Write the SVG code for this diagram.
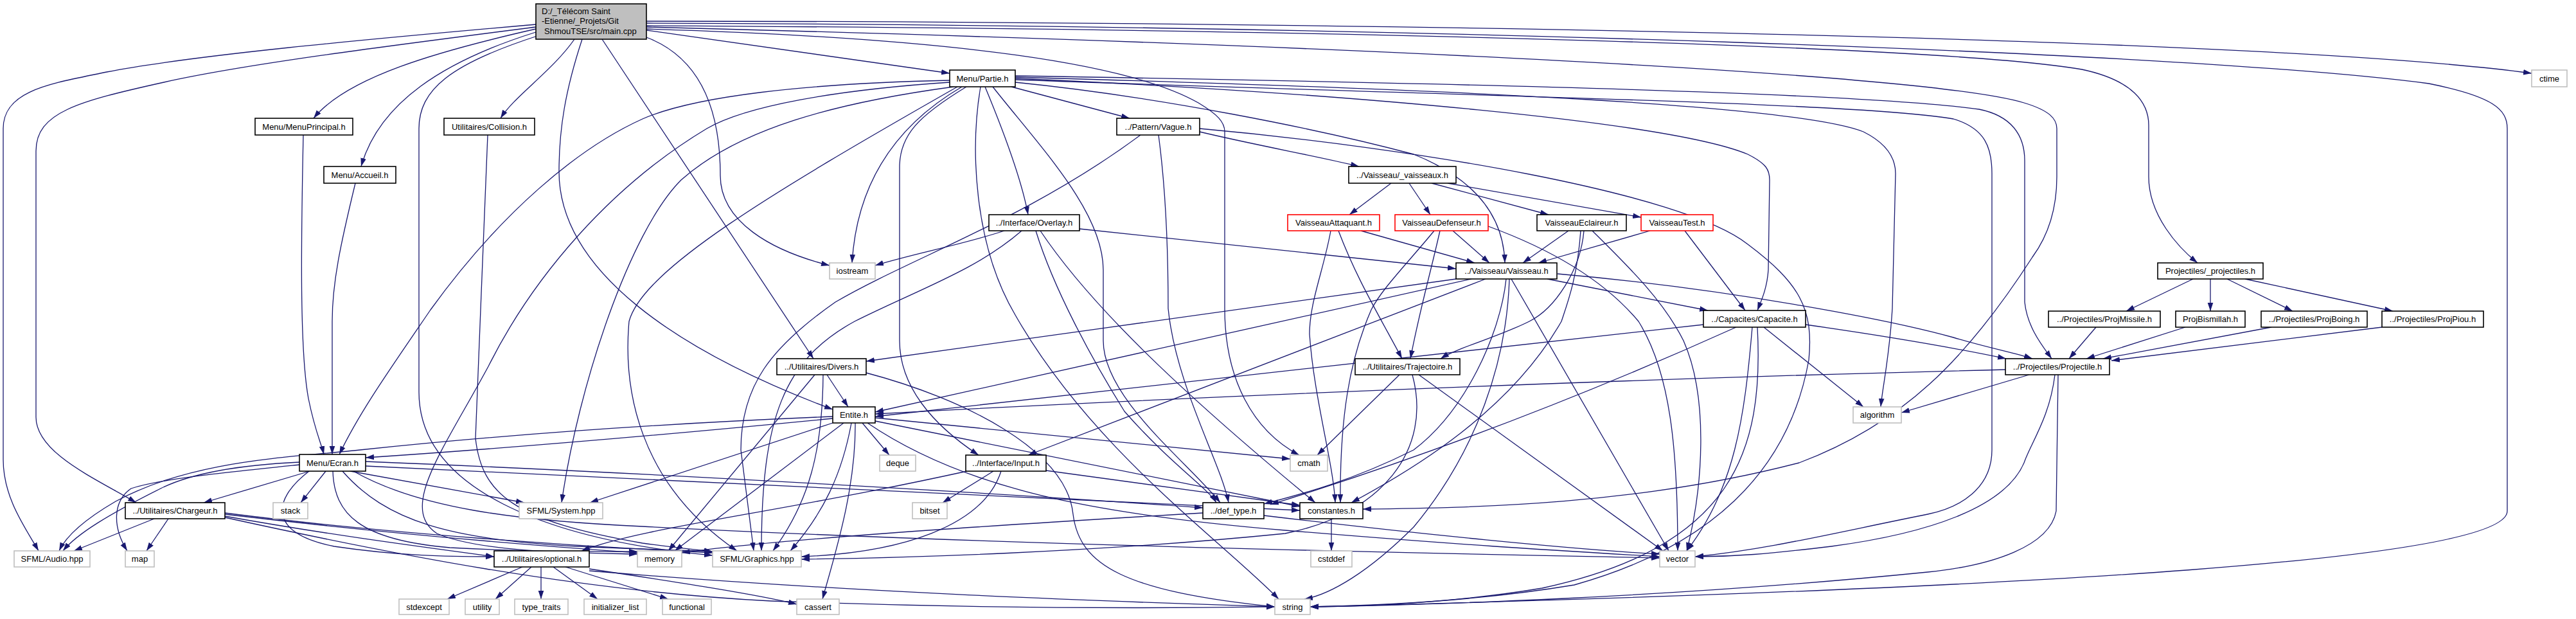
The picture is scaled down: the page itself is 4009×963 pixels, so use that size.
<svg xmlns="http://www.w3.org/2000/svg" width="4009" height="963" viewBox="0 0 4009 963">
<defs>
<style>
.e{fill:none;stroke:#191970;stroke-width:1.3;marker-end:url(#a)}
.b{fill:#fff;stroke:#000;stroke-width:1.6}
.g{fill:#fff;stroke:#bfbfbf;stroke-width:1.6}
.r{fill:#fff;stroke:#ff0000;stroke-width:1.6}
text{font-family:"Liberation Sans",Arial,sans-serif;font-size:13px;fill:#000;text-anchor:middle}
.l{text-anchor:start}
</style>
<marker id="a" markerWidth="13" markerHeight="10" refX="13" refY="5" orient="auto" markerUnits="userSpaceOnUse"><path d="M0,0.7 L13,5 L0,9.3 z" fill="#191970"/></marker>
</defs>
<rect width="4009" height="963" fill="#fff"/>
<g id="edges">
<path class="e" d="M834,38 C560,62 300,86 166,112 C80,130 5,140 5,200 L5,715 C5,775 40,822 60,857"/>
<path class="e" d="M834,42 C600,72 380,100 255,128 C120,158 56,175 56,235 L56,649 C56,705 150,745 212,782"/>
<path class="e" d="M834,45 C680,80 540,120 488,184"/>
<path class="e" d="M834,50 C690,95 590,160 562,259"/>
<path class="e" d="M836,56 C700,100 652,140 652,200 L652,610 C652,760 850,840 1109,864"/>
<path class="e" d="M894,61 C860,110 800,150 779,184"/>
<path class="e" d="M906,61 C880,140 870,200 870,267 C870,420 1050,545 1296,637"/>
<path class="e" d="M937,61 L1266,558"/>
<path class="e" d="M1006,58 C1090,90 1121,170 1121,273 C1121,345 1200,390 1291,413"/>
<path class="e" d="M1006,47 L1478,114"/>
<path class="e" d="M1006,33 C2000,33 3500,55 3940,114"/>
<path class="e" d="M1006,36 C2200,40 3400,80 3780,130 C3880,150 3902,170 3902,200 L3902,795 C3902,870 3200,915 2039,944"/>
<path class="e" d="M1006,40 C2200,46 3050,75 3240,108 C3320,125 3344,160 3344,195 L3344,275 C3344,335 3390,385 3420,409"/>
<path class="e" d="M1006,42 C2100,70 3000,115 3150,160 C3190,172 3201,185 3201,200 L3201,275 C3201,330 3185,370 3163,400 C3060,560 2960,660 2800,720 C2550,785 2300,790 2121,792"/>
<path class="e" d="M1006,45 C1500,60 1760,100 1865,160 C1895,178 1906,190 1906,205 L1906,480 C1906,590 1950,670 2022,708"/>
<path class="e" d="M1478,125 C1250,130 1080,150 1000,185 C900,230 780,330 670,482 C610,570 560,640 528,707"/>
<path class="e" d="M1478,128 C1300,140 1160,165 1100,200 C950,290 830,430 760,570 C690,700 620,790 680,830 C750,860 900,860 992,862"/>
<path class="e" d="M1484,135 C1300,160 1150,200 1060,280 C980,360 900,600 874,782"/>
<path class="e" d="M1490,135 C1200,300 1000,420 979,500 C970,600 990,750 1147,857"/>
<path class="e" d="M1497,135 C1420,180 1335,260 1326,409"/>
<path class="e" d="M1504,135 C1430,180 1400,210 1400,260 L1400,530 C1400,600 1450,660 1523,708"/>
<path class="e" d="M1526,135 C1510,230 1515,380 1580,490 C1700,700 1900,840 1990,932"/>
<path class="e" d="M1533,135 C1560,200 1590,280 1600,334"/>
<path class="e" d="M1545,135 C1620,230 1717,330 1717,420 L1717,530 C1717,620 1850,720 1899,782"/>
<path class="e" d="M1574,135 L1758,184"/>
<path class="e" d="M1580,128 C1800,150 2050,200 2200,240 C2300,280 2340,340 2342,409"/>
<path class="e" d="M1580,122 C2100,145 2600,190 2720,240 C2750,255 2754,265 2754,280 L2752,420 C2750,450 2740,470 2735,483"/>
<path class="e" d="M1580,120 C2300,140 2800,165 2900,205 C2940,225 2950,250 2950,270 L2945,480 C2940,560 2930,600 2927,633"/>
<path class="e" d="M1580,118 C2300,130 2900,145 3080,170 C3130,180 3151,210 3151,250 L3151,470 C3155,510 3180,540 3193,558"/>
<path class="e" d="M1580,124 C2300,150 2900,160 3040,185 C3090,200 3100,230 3100,270 L3100,700 C3100,760 3050,790 3000,800 C2850,830 2750,855 2638,866"/>
<path class="e" d="M1867,205 C1950,225 2060,245 2115,259"/>
<path class="e" d="M1775,210 C1600,340 1420,400 1300,470 C1200,540 1153,600 1153,700 L1173,857"/>
<path class="e" d="M1803,210 C1815,300 1818,400 1818,480 C1830,600 1900,720 1912,782"/>
<path class="e" d="M1867,200 C2200,230 2620,300 2720,380 C2800,440 2823,480 2815,560 C2790,700 2700,840 2450,910 C2300,935 2150,942 2039,944"/>
<path class="e" d="M1563,359 C1500,380 1420,395 1362,413"/>
<path class="e" d="M1590,359 C1520,420 1430,450 1330,500 C1220,560 1185,650 1185,857"/>
<path class="e" d="M1680,356 L2266,418"/>
<path class="e" d="M1612,359 C1640,450 1700,560 1750,640 C1820,720 1880,760 1893,782"/>
<path class="e" d="M1619,359 C1700,480 1850,620 2047,782"/>
<path class="e" d="M2165,285 L2100,334"/>
<path class="e" d="M2193,285 L2226,334"/>
<path class="e" d="M2228,285 L2410,334"/>
<path class="e" d="M2253,285 L2554,338"/>
<path class="e" d="M2118,359 L2295,409"/>
<path class="e" d="M2071,359 C2060,420 2038,470 2038,520 C2045,620 2075,720 2078,782"/>
<path class="e" d="M2083,359 C2110,430 2140,480 2182,558"/>
<path class="e" d="M2261,359 L2318,409"/>
<path class="e" d="M2232,359 C2190,410 2150,450 2134,482 C2100,560 2085,650 2086,782"/>
<path class="e" d="M2241,359 C2225,430 2210,480 2195,558"/>
<path class="e" d="M2316,352 C2420,390 2500,440 2550,500 C2600,580 2611,700 2611,857"/>
<path class="e" d="M2441,359 L2370,409"/>
<path class="e" d="M2460,359 C2455,430 2440,470 2430,500 C2350,640 2200,730 2103,782"/>
<path class="e" d="M2465,359 C2460,420 2420,480 2380,500 C2330,525 2270,540 2242,558"/>
<path class="e" d="M2478,359 C2540,420 2590,470 2620,530 C2660,620 2650,760 2625,857"/>
<path class="e" d="M2568,359 L2394,409"/>
<path class="e" d="M2622,359 L2716,483"/>
<path class="e" d="M2266,434 L1348,562"/>
<path class="e" d="M2290,434 L1362,641"/>
<path class="e" d="M2312,434 L1600,708"/>
<path class="e" d="M2344,434 C2335,520 2280,640 2200,700 C2100,750 2020,770 1967,784"/>
<path class="e" d="M2349,434 C2345,560 2300,700 2200,820 C2130,890 2070,925 2030,932"/>
<path class="e" d="M2352,434 L2597,857"/>
<path class="e" d="M2408,434 L2658,483"/>
<path class="e" d="M2424,426 C2700,450 2950,500 3040,525 C3090,540 3140,550 3163,558"/>
<path class="e" d="M2651,505 L1362,648"/>
<path class="e" d="M2702,509 C2500,600 2250,700 1977,785"/>
<path class="e" d="M2745,509 L2900,633"/>
<path class="e" d="M2727,509 C2715,650 2700,760 2625,857"/>
<path class="e" d="M2735,509 C2745,700 2700,850 2400,915 C2250,940 2100,944 2039,944"/>
<path class="e" d="M2810,505 C2950,525 3060,545 3122,558"/>
<path class="e" d="M2178,583 L2050,708"/>
<path class="e" d="M2198,583 C2230,700 2150,800 2000,830 C1700,860 1400,868 1247,870"/>
<path class="e" d="M2208,583 L2588,857"/>
<path class="e" d="M1287,583 L1320,633"/>
<path class="e" d="M1268,583 L1040,857"/>
<path class="e" d="M1281,583 C1280,700 1260,780 1203,857"/>
<path class="e" d="M1348,580 C1500,620 1660,700 1670,800 C1680,880 1750,920 1984,944"/>
<path class="e" d="M1296,648 C1000,660 750,680 560,700 C450,712 300,715 180,780 C120,815 100,840 92,857"/>
<path class="e" d="M1296,651 C1000,680 750,700 569,712"/>
<path class="e" d="M1296,658 L918,782"/>
<path class="e" d="M1313,658 L1050,857"/>
<path class="e" d="M1325,658 C1310,740 1280,800 1230,857"/>
<path class="e" d="M1331,658 C1332,760 1300,860 1280,932"/>
<path class="e" d="M1342,658 L1384,708"/>
<path class="e" d="M1362,650 L2008,714"/>
<path class="e" d="M1362,655 L2023,788"/>
<path class="e" d="M1350,658 C1500,760 1700,800 2000,825 C2300,850 2450,858 2583,866"/>
<path class="e" d="M1546,733 L1467,782"/>
<path class="e" d="M1558,733 C1530,820 1400,860 1247,866"/>
<path class="e" d="M1505,733 C1200,800 1000,820 905,857"/>
<path class="e" d="M1628,732 L2023,786"/>
<path class="e" d="M1872,798 C1500,820 1200,840 1061,860"/>
<path class="e" d="M1967,802 C2200,830 2450,855 2583,862"/>
<path class="e" d="M2072,807 L2072,857"/>
<path class="e" d="M240,807 L115,857"/>
<path class="e" d="M262,807 L228,857"/>
<path class="e" d="M350,803 C500,830 650,850 769,866"/>
<path class="e" d="M350,798 C600,830 900,850 1109,860"/>
<path class="e" d="M350,800 C600,830 850,850 992,860"/>
<path class="e" d="M350,805 C600,860 900,920 1200,935 C1600,950 1900,945 1984,944"/>
<path class="e" d="M482,733 L317,782"/>
<path class="e" d="M507,733 L468,782"/>
<path class="e" d="M545,733 L816,782"/>
<path class="e" d="M466,719 C380,723 300,735 250,760 C170,800 120,830 98,857"/>
<path class="e" d="M466,723 C350,735 250,745 204,760 C175,780 175,820 198,857"/>
<path class="e" d="M481,733 C420,780 420,830 520,850 C620,865 700,866 769,866"/>
<path class="e" d="M518,733 C520,800 560,840 700,852 C850,860 950,858 992,858"/>
<path class="e" d="M533,733 C600,810 700,840 900,850 C1000,855 1080,856 1109,858"/>
<path class="e" d="M569,718 C1000,735 1600,770 1872,790"/>
<path class="e" d="M569,725 C1100,750 1700,780 2023,794"/>
<path class="e" d="M550,733 C650,790 800,810 1000,819 C1600,850 2300,862 2583,868"/>
<path class="e" d="M813,882 L696,932"/>
<path class="e" d="M827,882 L771,932"/>
<path class="e" d="M842,882 L842,932"/>
<path class="e" d="M861,882 L930,932"/>
<path class="e" d="M880,882 L1040,932"/>
<path class="e" d="M917,885 C1050,905 1180,925 1240,940"/>
<path class="e" d="M917,888 C1300,920 1700,935 1984,944"/>
<path class="e" d="M3122,575 C2500,590 1800,620 1362,644"/>
<path class="e" d="M3158,583 L2959,642"/>
<path class="e" d="M3198,583 C3190,650 3160,690 3150,720 C3120,790 3000,830 2850,850 C2750,862 2700,866 2638,866"/>
<path class="e" d="M3203,583 L3200,795 C3190,850 3100,880 3000,890 C2600,930 2200,942 2039,944"/>
<path class="e" d="M3262,509 L3220,558"/>
<path class="e" d="M3401,509 L3247,558"/>
<path class="e" d="M3535,509 L3273,558"/>
<path class="e" d="M3707,509 L3286,561"/>
<path class="e" d="M3413,434 L3309,484"/>
<path class="e" d="M3440,434 L3440,484"/>
<path class="e" d="M3466,434 L3568,484"/>
<path class="e" d="M3494,434 L3724,484"/>
<path class="e" d="M759,210 C755,300 745,560 740,682 C750,770 800,810 1000,845 C1050,852 1090,856 1109,858"/>
<path class="e" d="M472,210 C468,400 467,550 480,620 C490,670 500,690 504,707"/>
<path class="e" d="M553,285 C530,380 517,440 517,500 L517,707"/>
</g>
<g id="n_main"><rect x="834" y="6" width="172" height="55" fill="#bfbfbf" stroke="#000" stroke-width="1.6"/><text class="l" x="843" y="22">D:/_Télécom Saint</text><text class="l" x="843" y="37">-Etienne/_Projets/Git</text><text class="l" x="847" y="52.5">ShmouTSE/src/main.cpp</text></g>
<g id="n_menuprincipal"><rect class="b" x="397" y="184" width="152" height="26"/><text x="473" y="201.5">Menu/MenuPrincipal.h</text></g>
<g id="n_collision"><rect class="b" x="691" y="184" width="141" height="26"/><text x="761.5" y="201.5">Utilitaires/Collision.h</text></g>
<g id="n_accueil"><rect class="b" x="504" y="259" width="112" height="26"/><text x="560" y="276.5">Menu/Accueil.h</text></g>
<g id="n_partie"><rect class="b" x="1478" y="109" width="102" height="26"/><text x="1529" y="126.5">Menu/Partie.h</text></g>
<g id="n_vague"><rect class="b" x="1738" y="184" width="129" height="26"/><text x="1802.5" y="201.5">../Pattern/Vague.h</text></g>
<g id="n_overlay"><rect class="b" x="1539" y="334" width="141" height="25"/><text x="1609.5" y="351">../Interface/Overlay.h</text></g>
<g id="n_iostream"><rect class="g" x="1291" y="409" width="71" height="25"/><text x="1326.5" y="426">iostream</text></g>
<g id="n_vaisseaux"><rect class="b" x="2099" y="259" width="167" height="26"/><text x="2182.5" y="276.5">../Vaisseau/_vaisseaux.h</text></g>
<g id="n_attaquant"><rect class="r" x="2004" y="334" width="143" height="25"/><text x="2075.5" y="351">VaisseauAttaquant.h</text></g>
<g id="n_defenseur"><rect class="r" x="2171" y="334" width="145" height="25"/><text x="2243.5" y="351">VaisseauDefenseur.h</text></g>
<g id="n_eclaireur"><rect class="b" x="2392" y="334" width="139" height="25"/><text x="2461.5" y="351">VaisseauEclaireur.h</text></g>
<g id="n_test"><rect class="r" x="2554" y="334" width="112" height="25"/><text x="2610" y="351">VaisseauTest.h</text></g>
<g id="n_vaisseau"><rect class="b" x="2266" y="409" width="157" height="25"/><text x="2344.5" y="426">../Vaisseau/Vaisseau.h</text></g>
<g id="n_ctime"><rect class="g" x="3940" y="109" width="55" height="26"/><text x="3967.5" y="126.5">ctime</text></g>
<g id="n_projectiles"><rect class="b" x="3358" y="409" width="164" height="25"/><text x="3440" y="426">Projectiles/_projectiles.h</text></g>
<g id="n_ecran"><rect class="b" x="466" y="707" width="103" height="26"/><text x="517.5" y="724.5">Menu/Ecran.h</text></g>
<g id="n_chargeur"><rect class="b" x="195" y="782" width="155" height="25"/><text x="272.5" y="799">../Utilitaires/Chargeur.h</text></g>
<g id="n_stack"><rect class="g" x="425" y="782" width="54" height="25"/><text x="452" y="799">stack</text></g>
<g id="n_system"><rect class="g" x="808" y="782" width="130" height="25"/><text x="873" y="799">SFML/System.hpp</text></g>
<g id="n_audio"><rect class="g" x="22" y="857" width="118" height="25"/><text x="81" y="874">SFML/Audio.hpp</text></g>
<g id="n_map"><rect class="g" x="195" y="857" width="45" height="25"/><text x="217.5" y="874">map</text></g>
<g id="n_optional"><rect class="b" x="769" y="857" width="148" height="25"/><text x="843" y="874">../Utilitaires/optional.h</text></g>
<g id="n_stdexcept"><rect class="g" x="621" y="932" width="78" height="24"/><text x="660" y="948.5">stdexcept</text></g>
<g id="n_utility"><rect class="g" x="724" y="932" width="53" height="24"/><text x="750.5" y="948.5">utility</text></g>
<g id="n_type_traits"><rect class="g" x="801" y="932" width="83" height="24"/><text x="842.5" y="948.5">type_traits</text></g>
<g id="n_initializer_list"><rect class="g" x="909" y="932" width="97" height="24"/><text x="957.5" y="948.5">initializer_list</text></g>
<g id="n_functional"><rect class="g" x="1031" y="932" width="76" height="24"/><text x="1069" y="948.5">functional</text></g>
<g id="n_cassert"><rect class="g" x="1240" y="932" width="66" height="24"/><text x="1273" y="948.5">cassert</text></g>
<g id="n_string"><rect class="g" x="1984" y="932" width="55" height="24"/><text x="2011.5" y="948.5">string</text></g>
<g id="n_memory"><rect class="g" x="992" y="857" width="69" height="25"/><text x="1026.5" y="874">memory</text></g>
<g id="n_graphics"><rect class="g" x="1109" y="857" width="138" height="25"/><text x="1178" y="874">SFML/Graphics.hpp</text></g>
<g id="n_divers"><rect class="b" x="1209" y="558" width="139" height="25"/><text x="1278.5" y="575">../Utilitaires/Divers.h</text></g>
<g id="n_entite"><rect class="b" x="1296" y="633" width="66" height="25"/><text x="1329" y="650">Entite.h</text></g>
<g id="n_deque"><rect class="g" x="1369" y="708" width="56" height="25"/><text x="1397" y="725">deque</text></g>
<g id="n_input"><rect class="b" x="1503" y="708" width="125" height="25"/><text x="1565.5" y="725">../Interface/Input.h</text></g>
<g id="n_bitset"><rect class="g" x="1420" y="782" width="54" height="25"/><text x="1447" y="799">bitset</text></g>
<g id="n_def_type"><rect class="b" x="1872" y="782" width="95" height="25"/><text x="1919.5" y="799">../def_type.h</text></g>
<g id="n_capacite"><rect class="b" x="2651" y="483" width="159" height="26"/><text x="2730.5" y="500.5">../Capacites/Capacite.h</text></g>
<g id="n_trajectoire"><rect class="b" x="2109" y="558" width="163" height="25"/><text x="2190.5" y="575">../Utilitaires/Trajectoire.h</text></g>
<g id="n_cmath"><rect class="g" x="2008" y="708" width="58" height="25"/><text x="2037" y="725">cmath</text></g>
<g id="n_algorithm"><rect class="g" x="2884" y="633" width="75" height="25"/><text x="2921.5" y="650">algorithm</text></g>
<g id="n_constantes"><rect class="b" x="2023" y="782" width="98" height="25"/><text x="2072" y="799">constantes.h</text></g>
<g id="n_cstddef"><rect class="g" x="2040" y="857" width="64" height="25"/><text x="2072" y="874">cstddef</text></g>
<g id="n_vector"><rect class="g" x="2583" y="857" width="55" height="25"/><text x="2610.5" y="874">vector</text></g>
<g id="n_projmissile"><rect class="b" x="3188" y="484" width="174" height="25"/><text x="3275" y="501">../Projectiles/ProjMissile.h</text></g>
<g id="n_projbismillah"><rect class="b" x="3386" y="484" width="108" height="25"/><text x="3440" y="501">ProjBismillah.h</text></g>
<g id="n_projboing"><rect class="b" x="3519" y="484" width="165" height="25"/><text x="3601.5" y="501">../Projectiles/ProjBoing.h</text></g>
<g id="n_projpiou"><rect class="b" x="3707" y="484" width="158" height="25"/><text x="3786" y="501">../Projectiles/ProjPiou.h</text></g>
<g id="n_projectile"><rect class="b" x="3121" y="558" width="162" height="25"/><text x="3202" y="575">../Projectiles/Projectile.h</text></g>
</svg>
